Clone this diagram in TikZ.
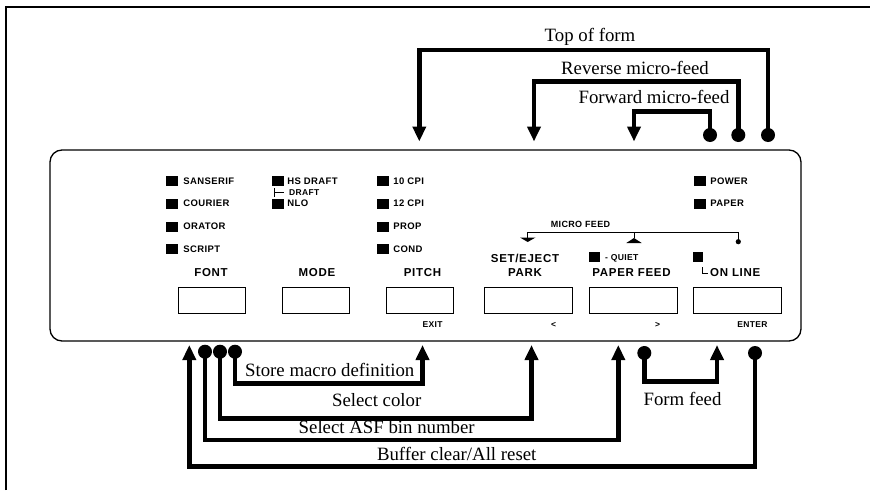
\documentclass[tikz,border=0pt]{standalone}
\usepackage{fontspec}
\setmainfont{Liberation Serif}
\newfontfamily\ledfont[LetterSpace=4]{Liberation Sans}
\newfontfamily\keyfont[LetterSpace=6]{Liberation Sans}
\usetikzlibrary{positioning,arrows.meta}

\begin{document}
\begin{tikzpicture}[
        x=1pt, y=-1pt,
        >={Triangle[length=15pt,width=13pt]},
        arrow/.style={->, line width=4.5pt},
        jack/.style={circle, fill=black, inner sep=0pt, minimum size=14pt},
        led/.style={rectangle, fill=black, inner sep=0pt, minimum width=12pt, minimum height=10pt},
        ledlabel/.style={font=\ledfont\bfseries\fontsize{9.5}{11}\selectfont, inner sep=0pt},
        key/.style={rectangle, draw=black, line width=0.8pt, inner sep=0pt, minimum width=67pt, minimum height=26.5pt},
        widekey/.style={key, minimum width=88pt},
        keylabel/.style={font=\keyfont\bfseries\fontsize{11.5}{13}\selectfont, inner sep=0pt, anchor=base},
        small/.style={font=\ledfont\bfseries\fontsize{8.5}{10}\selectfont, inner sep=0pt, anchor=base},
        caption/.style={font=\fontsize{18.8}{22}\selectfont, inner sep=0pt, anchor=base},
        thin/.style={line width=0.8pt}
    ]

    \useasboundingbox (0,0) rectangle (870,490);
    \draw[line width=1.6pt] (6,490) -- (6,7) -- (870,7);

    \node[draw=black, line width=1.3pt, rounded corners=12pt, minimum width=751pt, minimum height=191pt] (panel) at (425.5,245.5) {};

    \node[key] (kfont) at (211.5,300.3) {};
    \node[key] (kmode) at (315.5,300.3) {};
    \node[key] (kpitch) at (419.5,300.3) {};
    \node[widekey] (kset) at (528,300.3) {};
    \node[widekey] (kfeed) at (633,300.3) {};
    \node[widekey] (kline) at (737,300.3) {};

    \node[keylabel] (lfont) at (211,276.7) {FONT};
    \node[keylabel] (lmode) at (317,276.7) {MODE};
    \node[keylabel] (lpitch) at (422.5,276.7) {PITCH};
    \node[keylabel] (lset) at (525,262) {SET/EJECT};
    \node[keylabel] (lpark) at (525,276.7) {PARK};
    \node[keylabel] (lfeed) at (631.5,276.7) {PAPER FEED};
    \node[keylabel, anchor=base west] (lline) at (710,276.7) {ON LINE};

    \node[small] (exit) at (432.5,327.7) {EXIT};
    \node[small] (back) at (553.7,327.7) {<};
    \node[small] (fwd) at (657.5,327.7) {>};
    \node[small] (enter) at (752.5,327.7) {ENTER};

    \node[led] (sans) at (172,181) {};
    \node[ledlabel, right=5pt of sans] (tsans) {SANSERIF};
    \node[led] (cour) at (172,203.5) {};
    \node[ledlabel, right=5pt of cour] (tcour) {COURIER};
    \node[led] (orat) at (172,226.5) {};
    \node[ledlabel, right=5pt of orat] (torat) {ORATOR};
    \node[led] (scri) at (172,249) {};
    \node[ledlabel, right=5pt of scri] (tscri) {SCRIPT};

    \node[led] (hsdr) at (278,181) {};
    \node[ledlabel, right=3pt of hsdr] (thsdr) {HS DRAFT};
    \node[led] (nlo) at (278,203.5) {};
    \node[ledlabel, right=3pt of nlo] (tnlo) {NLO};
    \draw[thin] (274.5,188) -- (274.5,197) (274.5,192.5) -- (284,192.5);
    \node[small, anchor=base west] (tdraft) at (289,195.7) {DRAFT};

    \node[led] (cpi10) at (383,181) {};
    \node[ledlabel, right=4pt of cpi10] (tcpi10) {10 CPI};
    \node[led] (cpi12) at (383,203.5) {};
    \node[ledlabel, right=4pt of cpi12] (tcpi12) {12 CPI};
    \node[led] (prop) at (383,226.5) {};
    \node[ledlabel, right=4pt of prop] (tprop) {PROP};
    \node[led] (cond) at (383,249) {};
    \node[ledlabel, right=4pt of cond] (tcond) {COND};

    \node[led] (power) at (700,181) {};
    \node[ledlabel, right=4pt of power] (tpower) {POWER};
    \node[led] (paper) at (700,203.5) {};
    \node[ledlabel, right=4pt of paper] (tpaper) {PAPER};

    \node[led, minimum width=11pt] (quiet) at (594.5,256.5) {};
    \node[small, font=\ledfont\bfseries\fontsize{8.6}{10}\selectfont, anchor=base west] (tquiet) at (605,260) {- QUIET};
    \node[led, minimum width=10pt] (online) at (698,256.5) {};
    \draw[thin] (702.5,267) -- (702.5,273) -- (707.5,273);

    \node[small, font=\ledfont\bfseries\fontsize{9}{10}\selectfont] (micro) at (580.5,227.3) {MICRO FEED};
    \draw[thin] (527.7,237.5) -- (527.7,232.3) -- (738.3,232.3) -- (738.3,241.7);
    \draw[thin] (634,232.3) -- (634,238);
    \fill (520,237.5) -- (535.5,237.5) -- (527.7,242) -- cycle;
    \fill (626.3,243) -- (641.7,243) -- (634,238) -- cycle;
    \fill (738.3,241.7) circle (2.6pt);

    \node[jack] (jtop) at (768,135) {};
    \node[jack] (jrev) at (738.3,135) {};
    \node[jack] (jfwd) at (710,135) {};
    \coordinate (tpitch) at (419.3,141.5);
    \coordinate (tset) at (534,141.5);
    \coordinate (tfeed) at (634,141.5);

    \draw[arrow] (jtop.center) -- ++(0,-85) -| (tpitch);
    \draw[arrow] (jrev.center) -- ++(0,-53.3) -| (tset);
    \draw[arrow] (jfwd.center) -- ++(0,-23.3) -| (tfeed);

    \node[caption] (ctop) at (590,41) {Top of form};
    \node[caption] (crev) at (635,74) {Reverse micro-feed};
    \node[caption] (cfwd) at (654,103.3) {Forward micro-feed};

    \node[jack] (jasf) at (205,351.7) {};
    \node[jack] (jcol) at (220,351.7) {};
    \node[jack] (jsto) at (235,351.7) {};
    \node[jack] (jform) at (644.3,353) {};
    \node[jack] (jbuf) at (755,353) {};
    \coordinate (bfont) at (189.3,345);
    \coordinate (bpitch) at (422.5,345);
    \coordinate (bset) at (531.5,345);
    \coordinate (bfeed) at (618.3,345);
    \coordinate (bline) at (717,345);

    \draw[arrow] (jsto.center) -- ++(0,31.6) -| (bpitch);
    \draw[arrow] (jcol.center) -- ++(0,66.6) -| (bset);
    \draw[arrow] (jasf.center) -- ++(0,88.3) -| (bfeed);
    \draw[arrow] (jbuf.center) -- ++(0,113.7) -| (bfont);
    \draw[arrow] (jform.center) -- ++(0,28.7) -| (bline);

    \node[caption] (csto) at (329.7,376) {Store macro definition};
    \node[caption] (ccol) at (376.7,406) {Select color};
    \node[caption] (casf) at (386.7,433.3) {Select ASF bin number};
    \node[caption] (cbuf) at (456.7,460) {Buffer clear/All reset};
    \node[caption] (cform) at (682.5,405) {Form feed};

\end{tikzpicture}
\end{document}
